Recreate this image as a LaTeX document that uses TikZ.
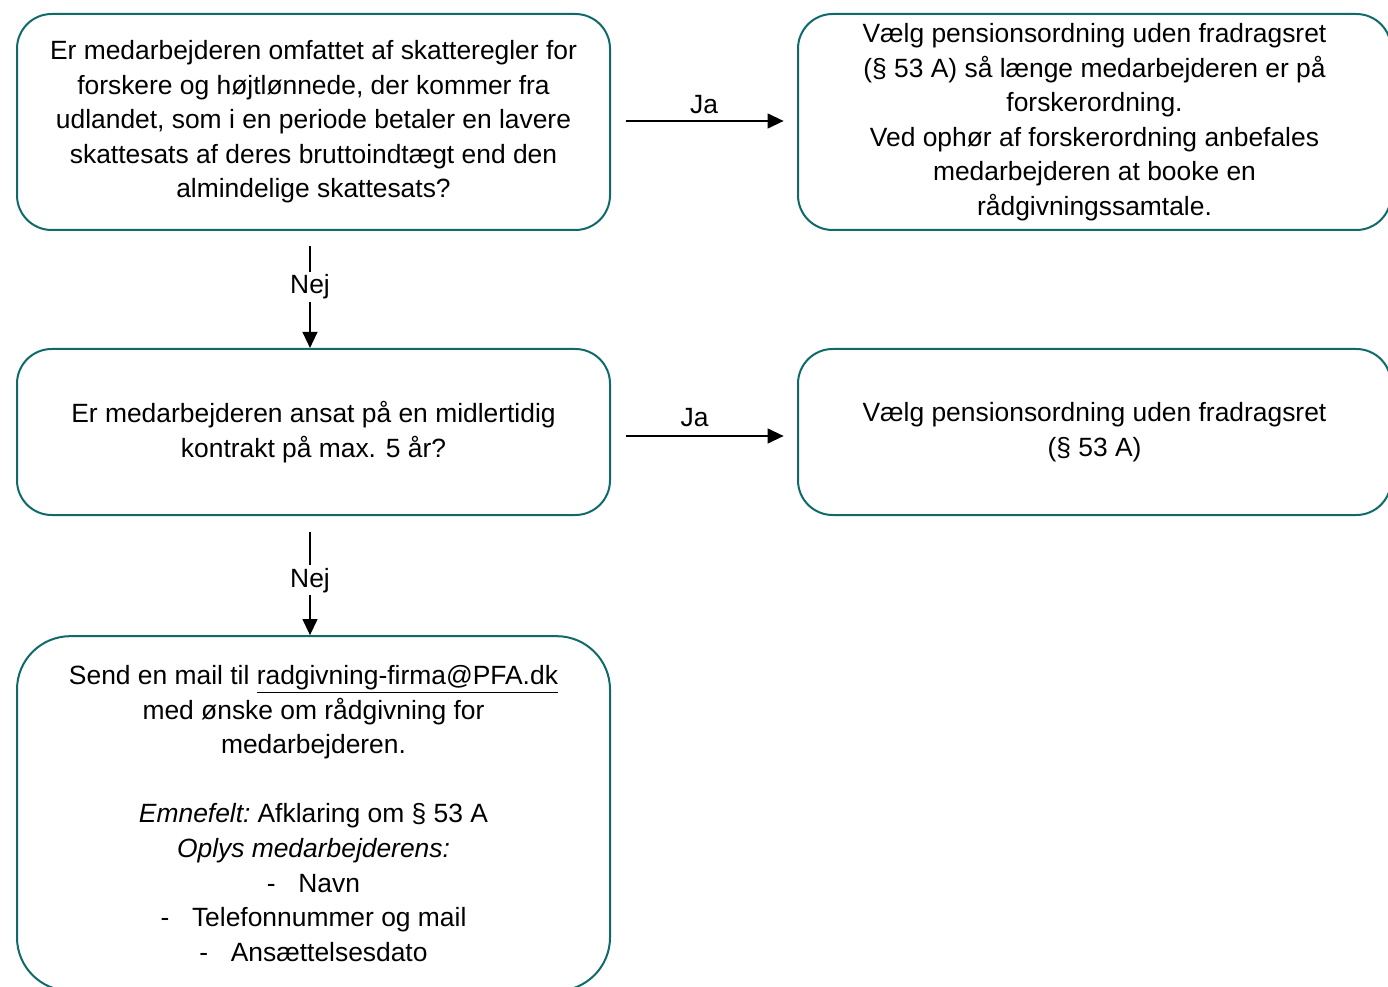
\documentclass[tikz,border=0pt]{standalone}
\usepackage{fontspec}
\setmainfont{Liberation Sans}
\usetikzlibrary{arrows.meta}
\definecolor{boxteal}{RGB}{16,106,106}
\begin{document}
\begin{tikzpicture}[x=0.75pt,y=-0.75pt,
  every node/.style={font=\fontsize{19.8}{25.9}\selectfont},
  flowbox/.style={draw=boxteal,line width=1.5pt,rounded corners=26pt,fill=white,
    minimum width=444.75pt,align=center,inner sep=0pt},
  conn/.style={line width=1.6pt,-{Triangle[length=12pt,width=11pt]}},
  lbl/.style={fill=white,inner sep=2pt}]
\useasboundingbox (0,0) rectangle (1388,987);
\node[flowbox,minimum height=162pt] (b1) at (313.5,122)
  {Er medarbejderen omfattet af skatteregler for\\forskere og højtlønnede, der kommer fra\\udlandet, som i en periode betaler en lavere\\skattesats af deres bruttoindtægt end den\\almindelige skattesats?};
\node[flowbox,minimum height=162pt] (b2) at (1094.5,122)
  {Vælg pensionsordning uden fradragsret\\(§ 53 A) så længe medarbejderen er på\\forskerordning.\\Ved ophør af forskerordning anbefales\\medarbejderen at booke en\\rådgivningssamtale.};
\node[flowbox,minimum height=124.5pt] (b3) at (313.5,432)
  {Er medarbejderen ansat på en midlertidig\\kontrakt på max. 5 år?};
\node[flowbox,minimum height=124.5pt] (b4) at (1094.5,432)
  {Vælg pensionsordning uden fradragsret\\(§ 53 A)};
\node[flowbox,minimum height=266pt,rounded corners=40pt] (b5) at (313.5,813.5)
  {Send en mail til \underline{radgivning-firma@PFA.dk}\\med ønske om rådgivning for\\medarbejderen.\\[25.9pt]\textit{Emnefelt:}\hspace{-2pt} Afklaring om § 53 A\\\textit{Oplys medarbejderens:}\\-\hspace{17pt}Navn\\-\hspace{17pt}Telefonnummer og mail\\-\hspace{17pt}Ansættelsesdato};
\draw[conn,shorten <=11pt,shorten >=10pt] (b1.east|-0,121) -- node[above=1pt]{Ja} (b2.west|-0,121);
\draw[conn,shorten <=11pt,shorten >=10pt] (b3.east|-0,436) -- node[above=3pt,xshift=-7pt]{Ja} (b4.west|-0,436);
\draw[conn,shorten <=11pt] (b1.south-|310,0) -- node[lbl,pos=0.48]{Nej} (b3.north-|310,0);
\draw[conn,shorten <=12pt] (b3.south-|310,0) -- node[lbl,pos=0.54]{Nej} (b5.north-|310,0);
\end{tikzpicture}
\end{document}
